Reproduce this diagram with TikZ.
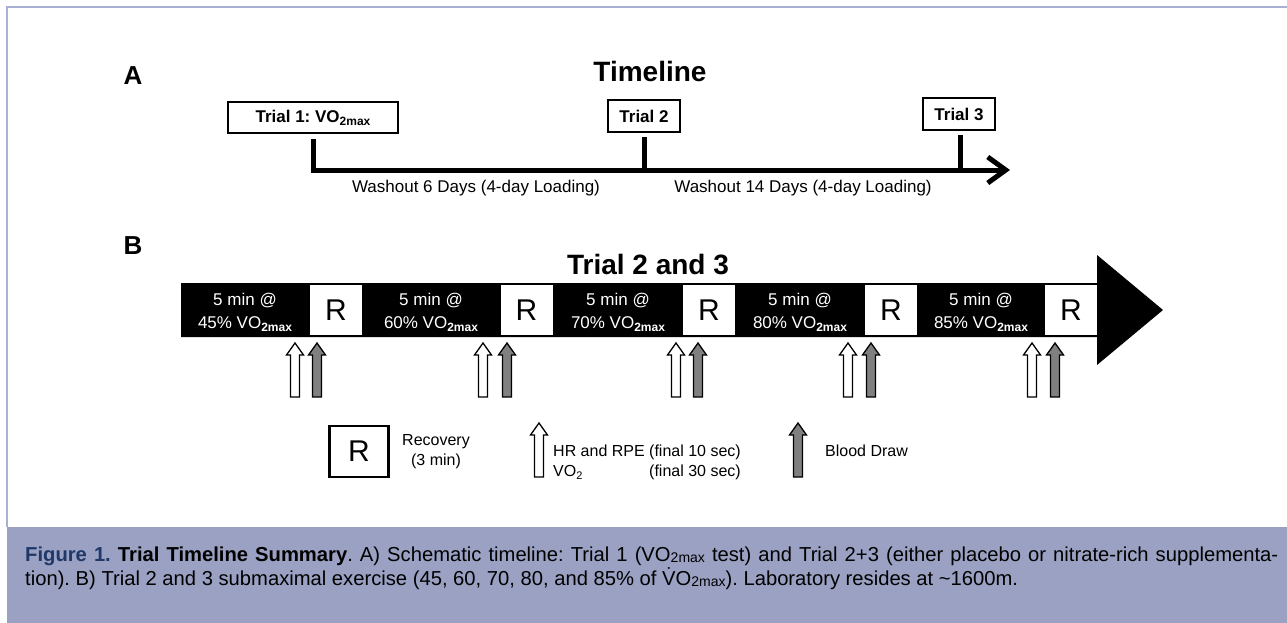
\documentclass[tikz,border=0pt]{standalone}
\usepackage{fontspec}
\setmainfont{Liberation Sans}
\usetikzlibrary{arrows.meta}
\definecolor{frameblue}{RGB}{168,176,214}
\definecolor{bandblue}{RGB}{154,161,194}
\definecolor{capnavy}{RGB}{31,56,104}
\definecolor{arrgray}{RGB}{128,128,128}
\newcommand{\myfs}[1]{\fontsize{#1}{#1}\selectfont}
\newcommand{\vsub}[1]{\raisebox{-3pt}{\fontsize{12}{12}\selectfont\bfseries #1}}
\newcommand{\capsub}[1]{\raisebox{-1.5pt}{\fontsize{14}{14}\selectfont #1}}
\frenchspacing
\begin{document}
\frenchspacing
\begin{tikzpicture}[x=1pt,y=-1pt,
  trialbox/.style={draw=black,line width=1.3pt,fill=white,inner sep=0pt,font=\myfs{17}\bfseries},
  txt/.style={inner sep=0pt,anchor=base},
  heading/.style={txt,font=\myfs{28}\bfseries},
  panel/.style={txt,font=\myfs{26}\bfseries},
  washtxt/.style={txt,font=\myfs{17}},
  rbox/.style={fill=white,minimum width=52pt,minimum height=50pt,inner sep=0pt,font=\myfs{30}},
  segtxt/.style={text=white,align=center,inner sep=0pt,font=\fontsize{17}{23}\selectfont},
  legtxt/.style={inner sep=0pt,font=\fontsize{16}{20}\selectfont},
  tline/.style={line width=5pt,line join=miter},
  pics/uparr/.style={code={
    \draw[line width=1.3pt,fill=#1,line join=miter]
      (-4.5,0) -- (-4.5,-42) -- (-8.5,-42) -- (0,-54) -- (8.5,-42) -- (4.5,-42) -- (4.5,0) -- cycle;}}
]
\useasboundingbox (0,0) rectangle (1287,623);
% frame and caption band
\fill[bandblue] (7,527) rectangle (1287,623);
\draw[frameblue,line width=1.5pt] (7,527) -- (7,7) -- (1287,7);

% ---------- Part A ----------
\node[panel] (pa) at (133,85) {A};
\node[heading] (tl) at (650,82) {Timeline};
\node[trialbox,minimum width=170pt,minimum height=31pt] (tr1) at (313,117.5) {Trial 1: VO\vsub{2max}};
\node[trialbox,minimum width=72pt,minimum height=32pt] (tr2) at (644,116) {Trial 2};
\node[trialbox,minimum width=72pt,minimum height=32pt] (tr3) at (959,114) {Trial 3};
\coordinate (k1) at (313,139);
\coordinate (k2) at (644,137);
\coordinate (k3) at (960,135);
\coordinate (k2b) at (644,170);
\coordinate (k3b) at (960,170);
\coordinate (tlend) at (1010,170);
\draw[tline,-{Straight Barb[length=18pt,width=26pt]}] (k1) |- (tlend);
\draw[tline] (k2) -- (k2b);
\draw[tline] (k3) -- (k3b);
\node[washtxt] (w1) at (476,192) {Washout 6 Days (4-day Loading)};
\node[washtxt] (w2) at (803,192) {Washout 14 Days (4-day Loading)};

% ---------- Part B ----------
\node[panel] (pb) at (133,254) {B};
\node[heading] (t23) at (648,274) {Trial 2 and 3};
\fill[black] (181,283) -- (1097,283) -- (1097,255) -- (1163,310) -- (1097,365) -- (1097,337) -- (181,337) -- cycle;
\node[segtxt] (s1) at (245,312) {5 min @\\45\% VO\vsub{2max}};
\node[segtxt] (s2) at (431,312) {5 min @\\60\% VO\vsub{2max}};
\node[segtxt] (s3) at (618,312) {5 min @\\70\% VO\vsub{2max}};
\node[segtxt] (s4) at (800,312) {5 min @\\80\% VO\vsub{2max}};
\node[segtxt] (s5) at (981,312) {5 min @\\85\% VO\vsub{2max}};
\node[rbox] (r1) at (336,310) {R};
\node[rbox] (r2) at (526.5,310) {R};
\node[rbox] (r3) at (709,310) {R};
\node[rbox] (r4) at (891,310) {R};
\node[rbox] (r5) at (1071,310) {R};
\foreach \xw/\xg in {295/317,483/507,676/698,848/871,1032/1055}{
  \pic at (\xw,397) {uparr=white};
  \pic at (\xg,397) {uparr=arrgray};
}

% ---------- Legend ----------
\node[draw=black,line width=2.2pt,minimum width=59pt,minimum height=51pt,inner sep=0pt,font=\myfs{30}] (legr) at (359,451.5) {R};
\node[legtxt,align=center] (rec) at (436,452) {Recovery\\(3 min)};
\pic at (539,477) {uparr=white};
\node[legtxt,anchor=base west] (hr) at (553,456) {\begin{tabular}[t]{@{}l@{\hspace{4.4pt}}r@{}}HR and RPE & (final 10 sec)\\ VO\raisebox{-3pt}{\myfs{11}2} & (final 30 sec)\end{tabular}};
\pic at (798,477) {uparr=arrgray};
\node[legtxt,anchor=base west] (bd) at (825,456) {Blood Draw};

% ---------- Caption ----------
\node[txt,anchor=base west,font=\myfs{20.2}] (cap1) at (25,561) {\frenchspacing\makebox[1253pt][s]{\textcolor{capnavy}{\bfseries Figure 1.} \textbf{Trial Timeline Summary}. A) Schematic timeline: Trial 1 (VO\capsub{2max} test) and Trial 2+3 (either placebo or nitrate-rich supplementa-}};
\node[txt,anchor=base west,font=\myfs{20.2}] (cap2) at (25,585) {\frenchspacing tion). B) Trial 2 and 3 submaximal exercise (45, 60, 70, 80, and 85\% of \.{V}O\capsub{2max}). Laboratory resides at \textasciitilde 1600m.};
\end{tikzpicture}
\end{document}
